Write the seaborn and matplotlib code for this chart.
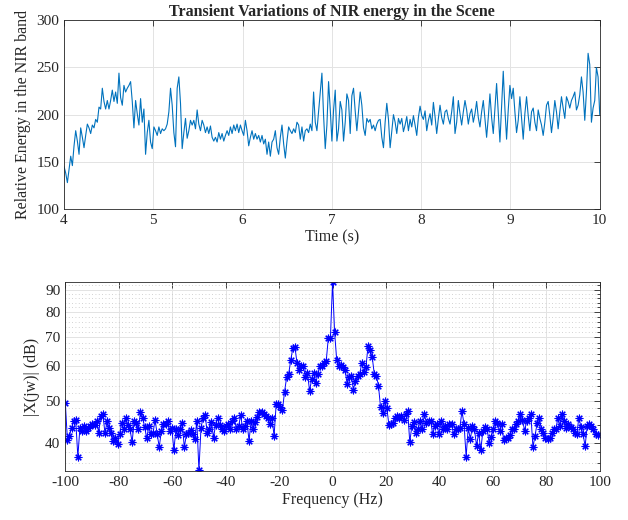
import numpy as np
import matplotlib
matplotlib.use("Agg")
import matplotlib.pyplot as plt
import seaborn as sns
from matplotlib.ticker import FixedLocator, NullFormatter, FuncFormatter

# relative NIR energy, one list per second of the record
seg_4 = [145, 138, 128, 142, 156, 146, 167, 183, 172, 158,
         186, 176, 165, 178, 190, 186, 180, 189, 186, 195,
         192, 208, 206, 228, 214, 206, 215, 206, 215, 226,
         214, 224, 212, 244, 218, 210, 231, 224, 228, 231,
         235, 214, 186, 215, 201, 189, 217, 192, 206, 158,
         181, 194, 171, 164]
seg_5 = [187, 183, 178, 187, 180, 185, 183, 185, 190, 203,
         228, 210, 181, 166, 228, 240, 212, 164, 181, 196,
         175, 183, 194, 189, 194, 185, 205, 190, 183, 194,
         189, 181, 187, 180, 188, 176, 172, 176, 171, 181,
         174, 180, 172, 178, 183, 178, 187, 180, 189, 183,
         190, 181, 189, 183]
seg_6 = [178, 194, 183, 167, 176, 183, 174, 180, 174, 178,
         171, 178, 169, 174, 158, 171, 156, 171, 174, 183,
         165, 158, 176, 189, 169, 154, 172, 187, 183, 180,
         185, 181, 192, 189, 174, 187, 172, 183, 185, 181,
         190, 183, 224, 192, 183, 203, 224, 244, 199, 164,
         189, 235, 206, 172]
seg_7 = [205, 226, 172, 185, 214, 205, 172, 192, 222, 215,
         180, 220, 228, 204, 183, 203, 224, 210, 186, 178,
         196, 192, 195, 185, 189, 183, 190, 194, 195, 176,
         165, 192, 212, 195, 165, 183, 200, 192, 180, 196,
         190, 196, 182, 189, 198, 183, 195, 187, 199, 189,
         178, 197, 209, 199]
seg_8 = [195, 204, 183, 194, 201, 189, 213, 198, 180, 196,
         210, 197, 190, 203, 205, 196, 190, 203, 219, 180,
         192, 215, 201, 189, 203, 215, 205, 190, 201, 206,
         192, 201, 214, 197, 187, 203, 215, 196, 176, 197,
         222, 197, 180, 206, 233, 203, 171, 208, 246, 206,
         174, 205, 231, 217]
seg_9 = [228, 203, 181, 194, 219, 196, 174, 201, 219, 199,
         183, 203, 207, 192, 183, 205, 196, 189, 178, 192,
         210, 214, 199, 181, 196, 215, 203, 185, 203, 219,
         207, 196, 219, 214, 207, 215, 219, 224, 205, 210,
         221, 240, 224, 194, 224, 265, 253, 192, 207, 215,
         250, 240, 200]

# |X(jw)| in dB, 256 bins: negative side, DC bin, positive side
mag_neg = [49.4, 40.6, 41.5, 43.3, 44.8, 45.0, 37.1, 43.3, 42.6, 43.7,
           42.6, 43.3, 43.7, 44.1, 43.9, 44.8, 42.2, 46.1, 46.5, 42.0,
           44.8, 43.3, 42.0, 40.4, 41.1, 39.8, 41.8, 44.4, 42.9, 45.5,
           44.0, 42.9, 40.1, 44.9, 44.4, 42.9, 47.0, 45.7, 43.5, 40.9,
           43.7, 41.8, 42.0, 45.2, 41.8, 39.1, 42.5, 44.1, 44.1, 44.8,
           42.6, 43.2, 38.5, 42.9, 41.6, 43.0, 44.4, 39.0, 41.8, 42.2,
           42.7, 41.9, 40.7, 44.8, 34.6, 43.3, 45.7, 46.3, 42.0, 42.9,
           44.6, 41.1, 44.0, 45.5, 43.9, 43.1, 42.6, 43.7, 44.1, 42.9,
           44.8, 45.5, 42.9, 43.6, 46.3, 42.9, 43.7, 44.8, 40.4, 44.8,
           42.9, 44.6, 45.8, 47.0, 47.0, 46.5, 46.1, 45.7, 44.1, 45.7,
           41.4,
           49.0, 49.2, 48.3, 47.5, 52.3, 56.5, 57.6, 62.0, 66.1, 66.4,
           60.9, 58.8, 60.0, 60.0, 56.5, 58.0, 52.6, 56.0, 57.8, 54.9,
           57.6, 60.0, 60.2, 61.0, 61.8, 69.8, 69.8]
mag_dc = [93.5]
mag_pos = [71.8, 62.0, 60.2, 60.5, 59.8, 58.8, 54.6, 56.5, 56.8, 53.0,
           55.5, 57.1, 57.6, 60.9, 58.3, 59.6, 66.7, 65.3, 63.0, 57.6,
           57.1, 54.1, 48.3, 46.9, 49.8, 48.1, 44.0,
           44.2, 44.4, 45.7, 46.1, 45.5, 46.1, 45.2, 46.5, 47.3, 40.1,
           43.7, 44.6, 42.0, 43.1, 44.9, 42.9, 46.6, 44.3, 44.8, 44.9,
           41.8, 43.7, 44.1, 41.8, 44.9, 43.1, 43.7, 43.1, 44.1, 44.2,
           41.8, 43.1, 43.1, 43.3, 47.3, 44.1, 37.1, 43.3, 40.7, 43.7,
           42.9, 39.3, 42.2, 38.4, 42.5, 43.5, 43.1, 40.0, 41.2, 42.9,
           44.8, 44.4, 42.6, 44.1, 40.5, 41.1, 41.1, 41.7, 42.9, 42.9,
           44.1, 44.8, 46.6, 45.2, 42.6, 44.8, 45.5, 46.5, 39.1, 41.4,
           44.4, 45.7, 43.1, 42.0, 41.1, 40.7, 41.1, 42.2, 42.9, 43.1,
           45.7, 43.7, 46.6, 44.8, 43.3, 44.1, 43.5, 42.9, 42.2, 41.8,
           45.7, 43.5, 41.8, 39.3, 43.7, 44.1, 43.7, 43.1, 41.8, 41.7]

energy = np.array(seg_4 + seg_5 + seg_6 + seg_7 + seg_8 + seg_9, dtype=float)
time_s = np.linspace(4, 10, len(energy))

mag_db = np.array(mag_neg + mag_dc + mag_pos)
freq = np.arange(len(mag_db)) * 200.0 / len(mag_db) - 100

sns.set_theme(style="white")
plt.rcParams['font.family'] = ['Liberation Serif', 'DejaVu Serif']
plt.rcParams['axes.edgecolor'] = '#262626'
plt.rcParams['axes.linewidth'] = 0.6
plt.rcParams['axes.unicode_minus'] = False

fig = plt.figure(figsize=(6.28, 5.2), dpi=100)
ax1 = fig.add_axes([0.102, 0.598, 0.853, 0.363])
ax2 = fig.add_axes([0.104, 0.094, 0.851, 0.364])

# top: time trace
sns.lineplot(x=time_s, y=energy, ax=ax1, color='#0072BD', lw=0.8)
ax1.set_xlim(4, 10)
ax1.set_ylim(100, 300)
ax1.set_xticks(range(4, 11))
ax1.set_yticks(range(100, 301, 50))
ax1.grid(True, color='#e3e3e3', lw=0.7)
ax1.set_title('Transient Variations of NIR energy in the Scene',
              fontsize=11.5, fontweight='bold', pad=3)
ax1.set_xlabel('Time (s)', fontsize=11.5, labelpad=2)
ax1.set_ylabel('Relative Energy in the NIR band', fontsize=11.5, labelpad=4)

# bottom: spectrum
sns.lineplot(x=freq, y=mag_db, ax=ax2, color='blue', lw=0.7,
             marker=(8, 2, 0), markersize=5.5, markeredgewidth=0.8,
             markeredgecolor='blue')
ax2.set_yscale('log')
ax2.set_xlim(-100, 100)
ax2.set_ylim(34.4, 93.8)
ax2.set_xticks(range(-100, 101, 20))
ax2.yaxis.set_major_locator(FixedLocator([40, 50, 60, 70, 80, 90]))
ax2.yaxis.set_major_formatter(FuncFormatter(lambda v, p: f'{v:g}'))
ax2.yaxis.set_minor_locator(FixedLocator([v for v in range(34, 94, 2) if v % 10]))
ax2.yaxis.set_minor_formatter(NullFormatter())
ax2.grid(True, which='major', color='#e3e3e3', lw=0.7)
ax2.grid(True, which='minor', axis='y', color='#c4c4c4', lw=0.6, ls=(0, (1, 3)))
ax2.set_xlabel('Frequency (Hz)', fontsize=11.5, labelpad=2)
ax2.set_ylabel('|X(jw)| (dB)', fontsize=11.5, labelpad=4)

for ax in (ax1, ax2):
    ax.set_axisbelow(True)
    ax.tick_params(which='both', direction='in', top=True, right=True,
                   labelsize=11, colors='#262626', width=0.6)
    ax.tick_params(which='major', length=4)
    ax.tick_params(which='minor', length=2)
    for s in ax.spines.values():
        s.set_visible(True)
        s.set_color('#262626')

fig.savefig('out.png', dpi=100, facecolor='white')
